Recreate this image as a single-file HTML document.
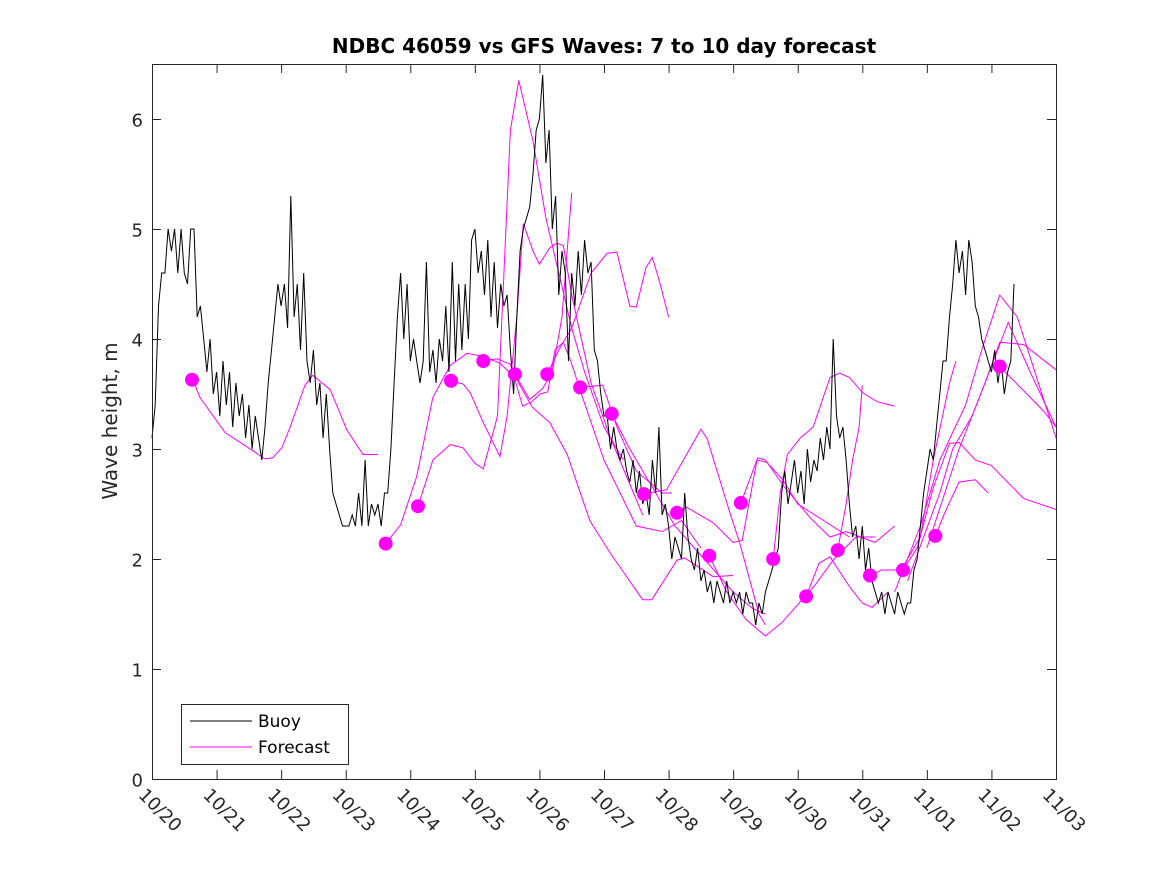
<!DOCTYPE html>
<html><head><meta charset="utf-8"><style>
html,body{margin:0;padding:0;background:#fff;}
svg{display:block;font-family:"DejaVu Sans","Liberation Sans",sans-serif;}
</style></head><body>
<svg id="chart" width="1167" height="875" viewBox="0 0 1167 875">
<rect x="0" y="0" width="1167" height="875" fill="#fff"/>
<text x="604" y="53" text-anchor="middle" font-size="20" font-weight="bold" fill="#000">NDBC 46059 vs GFS Waves: 7 to 10 day forecast</text>
<text transform="translate(117,421) rotate(-90)" text-anchor="middle" font-size="20" fill="#262626">Wave height, m</text>
<g id="plot"></g>
<g id="axes"></g>
<g>
<rect x="181.5" y="704.5" width="167" height="60" fill="#fff" stroke="#262626" stroke-width="1"/>
<line x1="190" y1="721" x2="252" y2="721" stroke="#000" stroke-width="1"/>
<text x="258" y="727" font-size="17" fill="#000">Buoy</text>
<line x1="190" y1="747" x2="252" y2="747" stroke="#ff00ff" stroke-width="1"/>
<text x="258" y="753" font-size="17" fill="#000">Forecast</text>
</g>
</svg>
<script>
const xTickLabels = ["10/20","10/21","10/22","10/23","10/24","10/25","10/26","10/27","10/28","10/29","10/30","10/31","11/01","11/02","11/03"];
const yTickLabels = ["0","1","2","3","4","5","6"];
// buoy sampled every 0.05 day, one row per day
const buoyStep = 0.05;
const buoyVals = [
 3.1,3.4,4.3,4.6,4.6,5.0,4.8,5.0,4.6,5.0,4.6,4.5,5.0,5.0,4.2,4.3,4.0,3.7,4.0,3.5,
 3.7,3.3,3.8,3.4,3.7,3.2,3.6,3.3,3.5,3.1,3.4,3.0,3.3,3.1,2.9,3.2,3.6,3.9,4.2,4.5,
 4.3,4.5,4.1,5.3,4.2,4.5,3.9,4.6,3.8,3.6,3.9,3.4,3.6,3.1,3.5,3.0,2.6,2.5,2.4,2.3,
 2.3,2.3,2.4,2.3,2.6,2.3,2.9,2.3,2.5,2.4,2.5,2.3,2.6,2.6,3.0,3.6,4.2,4.6,4.0,4.5,
 3.8,4.0,3.8,3.6,3.8,4.7,3.7,3.9,3.6,4.0,3.8,4.3,3.7,4.7,3.8,4.5,3.9,4.5,4.0,4.9,
 5.0,4.6,4.8,4.4,4.9,4.2,4.7,4.1,4.5,4.3,4.4,3.9,3.5,4.2,4.8,5.0,5.1,5.2,5.5,5.9,
 6.0,6.4,5.6,5.9,5.0,5.3,4.4,4.8,4.6,3.8,4.6,4.3,4.8,4.4,4.9,4.6,4.7,3.9,3.8,3.5,
 3.3,3.3,3.0,3.2,3.0,2.9,3.0,2.8,2.7,2.9,2.6,2.8,2.5,2.6,2.4,2.9,2.6,3.2,2.4,2.5,
 2.3,2.0,2.2,2.1,2.0,2.6,2.2,2.0,1.9,2.1,1.8,1.9,1.7,1.8,1.6,1.8,1.7,1.6,1.8,1.6,
 1.7,1.6,1.7,1.5,1.7,1.6,1.6,1.4,1.6,1.5,1.7,1.8,1.9,2.0,2.1,2.6,2.8,2.5,2.7,2.9,
 2.6,2.8,2.5,3.0,2.7,2.9,2.8,3.1,2.9,3.2,3.0,4.0,3.3,3.1,3.2,2.9,2.5,2.2,2.3,2.0,
 2.3,1.9,2.1,1.8,1.7,1.6,1.7,1.5,1.7,1.6,1.5,1.7,1.6,1.5,1.6,1.6,1.9,2.0,2.3,2.6,
 2.8,3.0,2.9,3.2,3.5,3.8,3.8,4.2,4.5,4.9,4.6,4.8,4.4,4.9,4.7,4.3,4.2,4.0,3.9,3.8,
 3.7,3.9,3.6,3.8,3.5,3.7,3.8,4.5
];
const dotDays = [0.62,3.62,4.12,4.63,5.13,5.62,6.12,6.63,7.12,7.62,8.13,8.63,9.12,9.62,10.13,10.62,11.12,11.63,12.13,13.13];
const dotVals = [3.63,2.14,2.48,3.62,3.80,3.68,3.68,3.56,3.32,2.59,2.42,2.03,2.51,2.00,1.66,2.08,1.85,1.90,2.21,3.75];
const fcDays = [
 [0.63,0.74,1.13,1.47,1.75,1.87,2.01,2.14,2.37,2.49,2.76,3.02,3.27,3.5],
 [3.62,3.85,4.1,4.35,4.62,4.88,5.13,5.39,5.65,5.89,6.16,6.43,6.78,7.09,7.6,7.74,8.13,8.25,8.69,9.0],
 [4.12,4.35,4.62,4.82,5.0,5.13,5.35,5.55,5.68,5.9,6.1,6.3,6.5,6.7,7.0,7.3],
 [4.63,4.82,4.93,5.13,5.39,5.5,5.65,5.75,5.9,6.0,6.16,6.27,6.37,6.5,6.8,7.1,7.6],
 [5.13,5.34,5.55,5.74,5.88,6.01,6.13,6.24,6.37,6.48,6.65,7.0,7.5,7.9,8.2,8.5],
 [5.62,5.85,6.05,6.2,6.35,6.5],
 [6.12,6.3,6.5,6.8,7.05,7.2,7.4,7.5,7.65,7.75,7.87,8.0],
 [6.63,6.98,7.2,7.5,7.9,8.05],
 [7.12,7.4,7.8,8.1,8.4,8.7,9.0,9.3,9.5],
 [7.62,7.97,8.5,8.6,8.95,9.1,9.4,9.5],
 [8.13,8.28,8.69,9.0,9.14,9.37,9.52,9.77,10.0,10.4,10.8],
 [8.63,8.9,9.2,9.5,9.75,10.25,10.55,10.9,11.2],
 [9.12,9.38,9.5,9.8,10.2,10.5,10.75,11.2,11.5],
 [9.62,9.73,9.84,10.04,10.24,10.5,10.65,10.8,11.01,11.23,11.5],
 [10.13,10.33,10.5,10.8,11.0,11.15,11.4],
 [10.62,10.75,10.85,10.95,11.0],
 [11.12,11.3,11.6,11.9,12.1,12.35,12.45],
 [11.63,11.85,12.1,12.35,12.5,12.75,13.0,13.5,14.0],
 [12.13,12.3,12.5,12.75,12.95],
 [13.13,13.55,13.8,14.0],
 [11.5,11.9,12.2,12.6,12.85,13.13,13.4,14.0],
 [11.7,12.2,12.4,12.7,12.9,13.26,13.6,14.0],
 [12.0,12.5,12.9,13.13,13.5,14.0]
];
const fcVals = [
 [3.64,3.47,3.15,3.02,2.91,2.92,3.01,3.2,3.58,3.67,3.54,3.17,2.95,2.95],
 [2.14,2.31,2.75,3.47,3.76,3.87,3.84,3.78,3.63,3.38,3.24,2.95,2.35,2.06,1.63,1.63,1.99,2.01,1.84,1.85],
 [2.48,2.9,3.04,3.01,2.87,2.82,3.3,5.9,6.35,5.8,5.1,4.6,4.1,3.7,3.2,2.9],
 [3.62,3.59,3.51,3.24,2.93,3.3,4.2,5.05,4.8,4.68,4.83,4.87,4.85,4.4,3.6,3.1,2.4],
 [3.80,3.82,3.77,3.39,3.43,3.5,3.52,3.9,3.97,3.81,3.5,2.9,2.3,2.25,2.35,2.1],
 [3.68,3.45,3.55,3.7,4.2,5.33],
 [3.68,3.9,4.1,4.6,4.78,4.79,4.3,4.29,4.65,4.74,4.5,4.2],
 [3.56,3.58,3.2,2.8,2.6,2.6],
 [3.32,3.0,2.6,2.3,2.1,1.9,1.7,1.55,1.5],
 [2.59,2.63,3.18,3.09,2.42,2.15,1.5,1.4],
 [2.43,2.47,2.33,2.15,2.17,2.9,2.88,2.72,2.5,2.35,2.2],
 [2.03,1.7,1.45,1.3,1.42,1.75,1.99,2.2,2.2],
 [2.51,2.92,2.9,2.65,2.37,2.2,2.25,2.15,2.3],
 [2.0,2.6,2.95,3.1,3.2,3.65,3.69,3.65,3.51,3.43,3.39],
 [1.66,1.96,2.02,1.75,1.6,1.56,1.7],
 [2.08,2.5,2.9,3.2,3.58],
 [1.85,1.9,1.9,2.2,2.9,3.6,3.8],
 [1.9,2.1,2.65,3.05,3.06,2.9,2.85,2.55,2.45],
 [2.21,2.45,2.7,2.72,2.6],
 [3.75,3.5,3.35,3.2],
 [1.7,2.3,2.9,3.4,3.9,4.4,4.2,3.1],
 [1.8,2.6,3.0,3.3,3.6,4.15,3.7,3.2],
 [2.1,3.0,3.6,3.97,3.95,3.72]
];

const X0=152, X1=1056, Y0=779, Y1=64, DMAX=14, VMAX=6.5;
function xs(d){return X0+(X1-X0)*d/DMAX;}
function ys(v){return Y0-(Y0-Y1)*v/VMAX;}
const NS="http://www.w3.org/2000/svg";
const plot=document.getElementById('plot');
const axes=document.getElementById('axes');
function mk(tag,attrs,parent){const e=document.createElementNS(NS,tag);for(const k in attrs)e.setAttribute(k,attrs[k]);parent.appendChild(e);return e;}

fcDays.forEach((ds,i)=>{
  const pts=ds.map((d,j)=>xs(d).toFixed(1)+','+ys(fcVals[i][j]).toFixed(1)).join(' ');
  const pl=mk('polyline',{points:pts,fill:'none',stroke:'#ff00ff','stroke-width':1},plot);
  
  
});
{
  const pts=buoyVals.map((v,j)=>xs(j*buoyStep).toFixed(1)+','+ys(v).toFixed(1)).join(' ');
  const pl=mk('polyline',{points:pts,fill:'none',stroke:'#000','stroke-width':1},plot);
  
  
}
dotDays.forEach((d,i)=>{
  const c=mk('circle',{cx:xs(d).toFixed(1),cy:ys(dotVals[i]).toFixed(1),r:7,fill:'#ff00ff'},plot);
  
  
});
{
  const r=mk('rect',{x:X0+0.5,y:Y1+0.5,width:X1-X0,height:Y0-Y1,fill:'none',stroke:'#262626','stroke-width':1},axes);
  
  
}
xTickLabels.forEach((lab,i)=>{
  const x=xs(i)+0.5;
  const t1=mk('line',{x1:x,y1:Y0,x2:x,y2:Y0-9,stroke:'#262626','stroke-width':1},axes);
  
  
  const t2=mk('line',{x1:x,y1:Y1,x2:x,y2:Y1+9,stroke:'#262626','stroke-width':1},axes);
  
  
  const tx=mk('text',{transform:'translate('+(x-15)+','+(Y0+17)+') rotate(45)','font-size':18,fill:'#262626'},axes);
  tx.textContent=lab;
  
  
});
yTickLabels.forEach((lab,i)=>{
  const y=ys(i)+0.5;
  const t1=mk('line',{x1:X0,y1:y,x2:X0+9,y2:y,stroke:'#262626','stroke-width':1},axes);
  
  
  const t2=mk('line',{x1:X1,y1:y,x2:X1-9,y2:y,stroke:'#262626','stroke-width':1},axes);
  
  
  const tx=mk('text',{x:X0-9,y:y+7,'text-anchor':'end','font-size':18,fill:'#262626'},axes);
  tx.textContent=lab;
  
  
});
</script>
</body></html>
